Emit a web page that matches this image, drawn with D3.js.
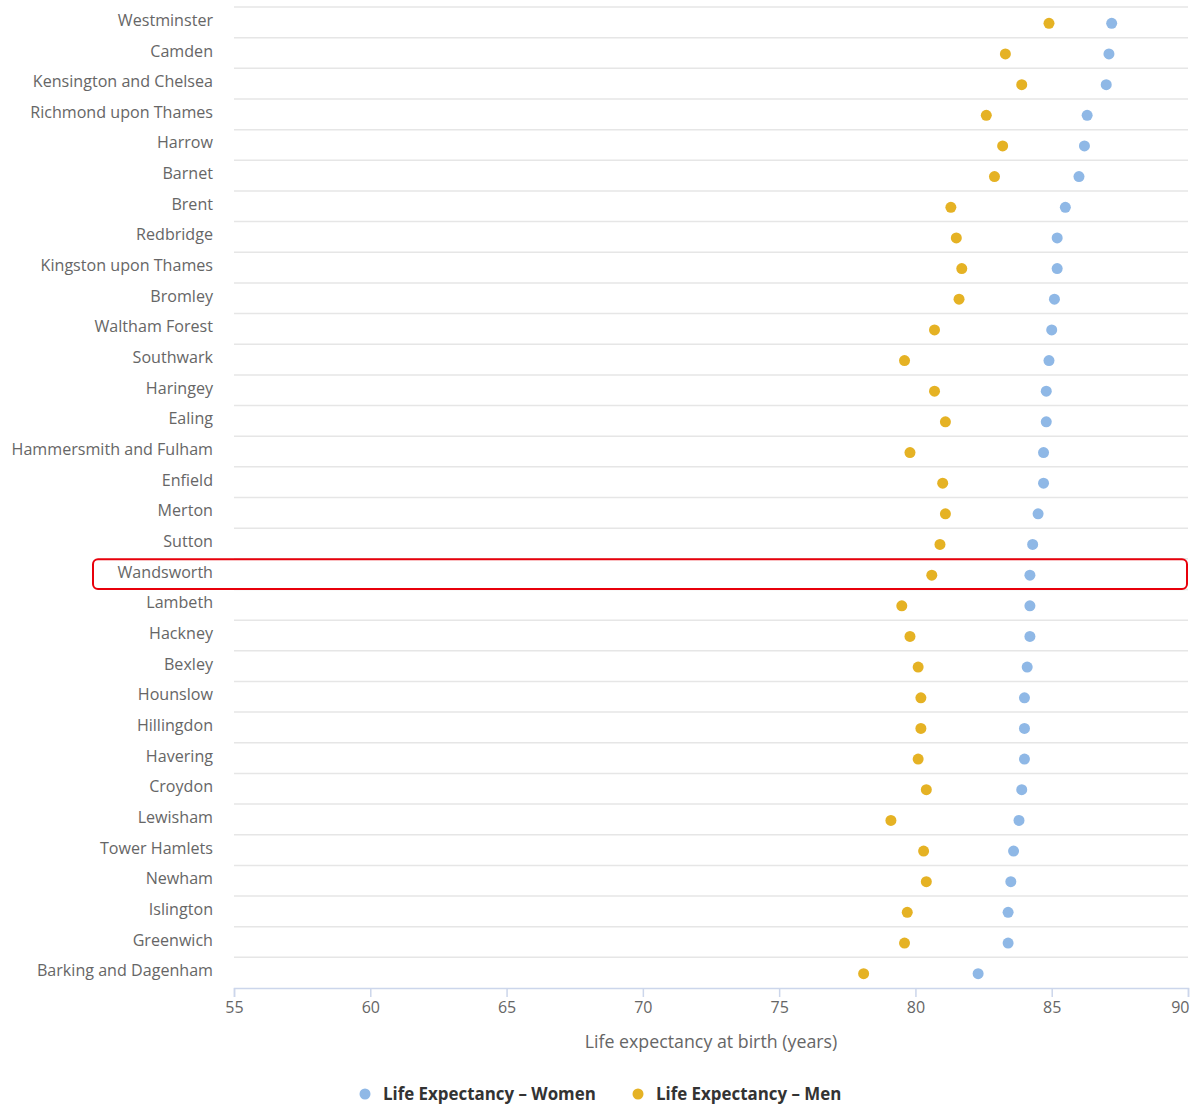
<!DOCTYPE html>
<html>
<head>
<meta charset="utf-8">
<script src="https://cdn.jsdelivr.net/npm/d3@7"></script>
<style>
  html, body { margin: 0; padding: 0; background: #fff; }
  svg { display: block; font-family: "Open Sans", "DejaVu Sans", sans-serif; }
</style>
</head>
<body>
<svg id="chart" width="1193" height="1104"></svg>
<script>
const boroughs = ["Westminster","Camden","Kensington and Chelsea","Richmond upon Thames","Harrow","Barnet","Brent","Redbridge","Kingston upon Thames","Bromley","Waltham Forest","Southwark","Haringey","Ealing","Hammersmith and Fulham","Enfield","Merton","Sutton","Wandsworth","Lambeth","Hackney","Bexley","Hounslow","Hillingdon","Havering","Croydon","Lewisham","Tower Hamlets","Newham","Islington","Greenwich","Barking and Dagenham"];
const women = [87.2,87.1,87.0,86.3,86.2,86.0,85.5,85.2,85.2,85.1,85.0,84.9,84.8,84.8,84.7,84.7,84.5,84.3,84.2,84.2,84.2,84.1,84.0,84.0,84.0,83.9,83.8,83.6,83.5,83.4,83.4,82.3];
const men = [84.9,83.3,83.9,82.6,83.2,82.9,81.3,81.5,81.7,81.6,80.7,79.6,80.7,81.1,79.8,81.0,81.1,80.9,80.6,79.5,79.8,80.1,80.2,80.2,80.1,80.4,79.1,80.3,80.4,79.7,79.6,78.1];
const xTicks = [55,60,65,70,75,80,85,90];
const seriesNames = ["Life Expectancy – Women","Life Expectancy – Men"];
const highlighted = "Wandsworth";
const axisTitle = "Life expectancy at birth (years)";

(function () {
const colWomen = "#8fb8e6", colMen = "#e5b224";
const svg = d3.select("#chart");
const pLeft = 234, pRight = 1188, pTop = 7, pBottom = 988;

const x = d3.scaleLinear().domain([55, 90]).range([pLeft, pRight]);
const y = d3.scaleBand().domain(boroughs).range([pTop, pBottom]);

// grid lines between categories
svg.append("g").selectAll("line").data(boroughs).join("line")
  .attr("x1", pLeft).attr("x2", pRight)
  .attr("y1", d => y(d)).attr("y2", d => y(d))
  .attr("stroke", "#e6e6e6").attr("stroke-width", 1.5);

// y labels
svg.append("g").selectAll("text").data(boroughs).join("text")
  .attr("x", 213).attr("y", d => y(d) + y.bandwidth()/2)
  .attr("dy", "0.22em")
  .attr("text-anchor", "end")
  .attr("font-size", 16.1)
  .attr("fill", "#666")
  .text(d => d);

// x axis
const xAxis = d3.axisBottom(x).tickValues(xTicks).tickSize(9).tickPadding(5).tickFormat(d3.format("d"));
const gx = svg.append("g").attr("transform", `translate(0,${pBottom})`).call(xAxis);
gx.select(".domain").attr("stroke", "#ccd6eb").attr("stroke-width", 1.5);
gx.selectAll(".tick line").attr("stroke", "#ccd6eb").attr("stroke-width", 1.5);
gx.selectAll(".tick text").attr("fill", "#666").attr("font-size", 16).attr("font-family", "Open Sans, DejaVu Sans, sans-serif");
gx.selectAll(".tick text").filter(d => d === xTicks[xTicks.length - 1])
  .attr("text-anchor", "end").attr("dx", 1);

svg.append("text").attr("x", (pLeft+pRight)/2).attr("y", 1048)
  .attr("text-anchor", "middle").attr("font-size", 17.8).attr("fill", "#666")
  .text(axisTitle);

// highlight box
const hy = y(highlighted);
svg.append("rect").attr("x", 93).attr("y", hy + 0.5).attr("width", 1187 - 93).attr("height", y.bandwidth() - 1)
  .attr("rx", 5).attr("fill", "none").attr("stroke", "#e8000b").attr("stroke-width", 2);

// points
const pts = svg.append("g");
pts.selectAll("circle.w").data(boroughs).join("circle").attr("class","w")
  .attr("cx", (d,i) => x(women[i])).attr("cy", d => y(d) + y.bandwidth()/2 + 1)
  .attr("r", 5.5).attr("fill", colWomen);
pts.selectAll("circle.m").data(boroughs).join("circle").attr("class","m")
  .attr("cx", (d,i) => x(men[i])).attr("cy", d => y(d) + y.bandwidth()/2 + 1)
  .attr("r", 5.5).attr("fill", colMen);

// legend
const legend = svg.append("g");
const legX = [365, 638];
const legCols = [colWomen, colMen];
seriesNames.forEach((n, i) => {
  legend.append("circle").attr("cx", legX[i]).attr("cy", 1094).attr("r", 5.5).attr("fill", legCols[i]);
  legend.append("text").attr("x", legX[i] + 18).attr("y", 1094).attr("dy", "0.35em")
    .attr("font-size", 16.9).attr("font-weight", "bold").attr("fill", "#333").text(n);
});
})();
</script>
</body>
</html>
